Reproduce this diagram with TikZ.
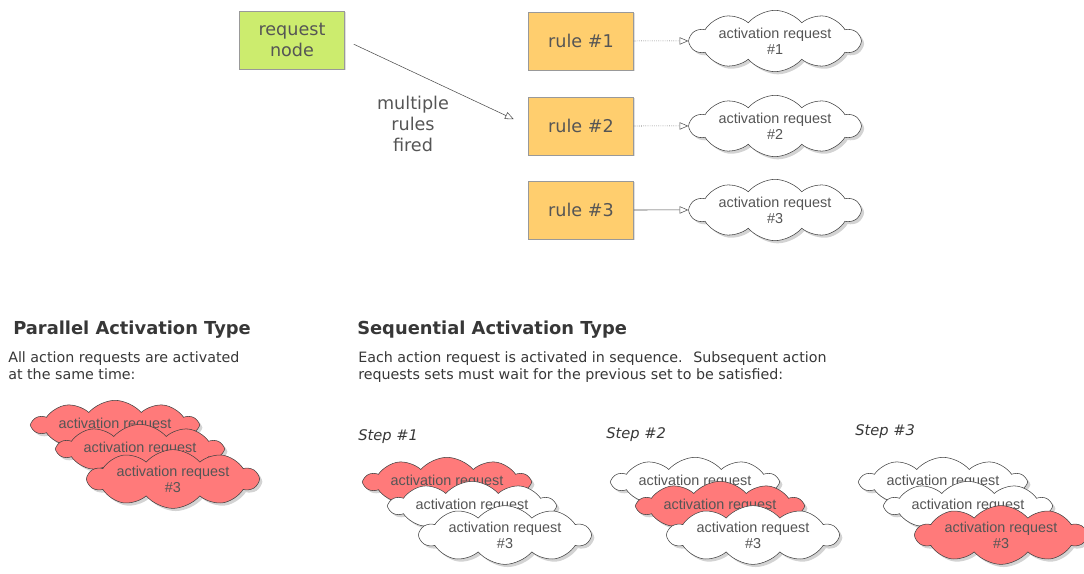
\documentclass[tikz,border=0pt]{standalone}
\usepackage{fontspec}
\setmainfont{DejaVu Sans}
\newfontfamily\cloudfont{Liberation Sans}
\usetikzlibrary{shapes.symbols,shadows,arrows.meta}
\definecolor{nodegreen}{RGB}{204,236,110}
\definecolor{ruleorange}{RGB}{255,206,110}
\definecolor{cloudred}{RGB}{255,122,122}
\definecolor{textgray}{RGB}{85,85,85}
\definecolor{darktext}{RGB}{55,55,55}
\tikzset{
   box/.style={draw=gray!80, thin, text=textgray, align=center,
      minimum width=78.75pt, minimum height=43.5pt,
      font=\fontsize{13.2}{15.75}\selectfont,
      drop shadow={shadow xshift=1pt, shadow yshift=-1pt, opacity=0.25}},
   requestbox/.style={box, fill=nodegreen},
   rulebox/.style={box, fill=ruleorange},
   cloudbase/.style={cloud, cloud puffs=10, cloud puff arc=100, cloud ignores aspect,
      draw=black!75, thin, fill=white, text=textgray, align=center, inner sep=0pt,
      font=\cloudfont\fontsize{10.8}{12}\selectfont,
      drop shadow={shadow xshift=2pt, shadow yshift=-2pt, opacity=0.35}},
   topcloud/.style={cloudbase, minimum width=127.5pt, minimum height=46pt},
   stackcloud/.style={cloudbase, minimum width=123.75pt, minimum height=37pt},
   tallcloud/.style={cloudbase, minimum width=127.5pt, minimum height=42pt},
   link/.style={draw=black!70, -{Triangle[open, length=6.5pt, width=5.5pt]}},
   title/.style={anchor=base west, inner sep=0pt, text=darktext,
      font=\bfseries\fontsize{13.4}{16}\selectfont},
   bodytext/.style={anchor=north west, inner sep=0pt, align=left, text=darktext,
      font=\fontsize{10.7}{13.2}\selectfont},
   steplabel/.style={anchor=base west, inner sep=0pt, text=darktext,
      font=\itshape\fontsize{11}{13}\selectfont}
}
\begin{document}
\begin{tikzpicture}[x=0.75pt, y=-0.75pt]
   \useasboundingbox (0,0) rectangle (1084,574);
   % request node and the rules it fires
   \node[requestbox] (request) at (292,40) {request\\node};
   \foreach \r/\y/\lstyle in {1/41/densely dotted, 2/126/densely dotted, 3/210/solid} {
      \node[rulebox] (rule\r) at (581,\y) {rule \#\r};
      \node[topcloud] (act\r) at (775,\y) {activation request\\\#\r};
      \draw[link, \lstyle] (rule\r) -- (act\r);
   }
   \draw[link, shorten <=7.5pt, shorten >=12pt] (request.east) -- (rule2.west);
   \node[align=center, text=textgray, font=\fontsize{13.2}{15.75}\selectfont]
      (fired) at (413,124) {multiple\\rules\\fired};
   % parallel activation
   \node[title] (partitle) at (13,334) {Parallel Activation Type};
   \node[bodytext] (partext) at (8,351) {All action requests are activated\\at the same time:};
   \node[stackcloud, fill=cloudred] (par-a) at (115,425) {activation request};
   \node[stackcloud, fill=cloudred] (par-b) at (140,449) {activation request};
   \node[tallcloud, fill=cloudred] (par-c) at (173,479) {activation request\\\#3};
   % sequential activation
   \node[title] (seqtitle) at (357,334) {Sequential Activation Type};
   \node[bodytext] (seqtext) at (358,351) {Each action request is activated in sequence.~ Subsequent action\\requests sets must wait for the previous set to be satisfied:};
   \foreach \s/\x/\ylab in {1/358/440, 2/606/438, 3/855/435} {
      \node[steplabel] (step\s) at (\x,\ylab) {Step \#\s};
   }
   \foreach \s/\fa/\fb/\fc in {1/cloudred/white/white, 2/white/cloudred/white, 3/white/white/cloudred} {
      \node[stackcloud, fill=\fa] (seq\s-a) at ({447+248*(\s-1)},482) {activation request};
      \node[stackcloud, fill=\fb] (seq\s-b) at ({472+248*(\s-1)},506) {activation request};
      \node[tallcloud, fill=\fc] (seq\s-c) at ({505+248*(\s-1)},535) {activation request\\\#3};
   }
\end{tikzpicture}
\end{document}
